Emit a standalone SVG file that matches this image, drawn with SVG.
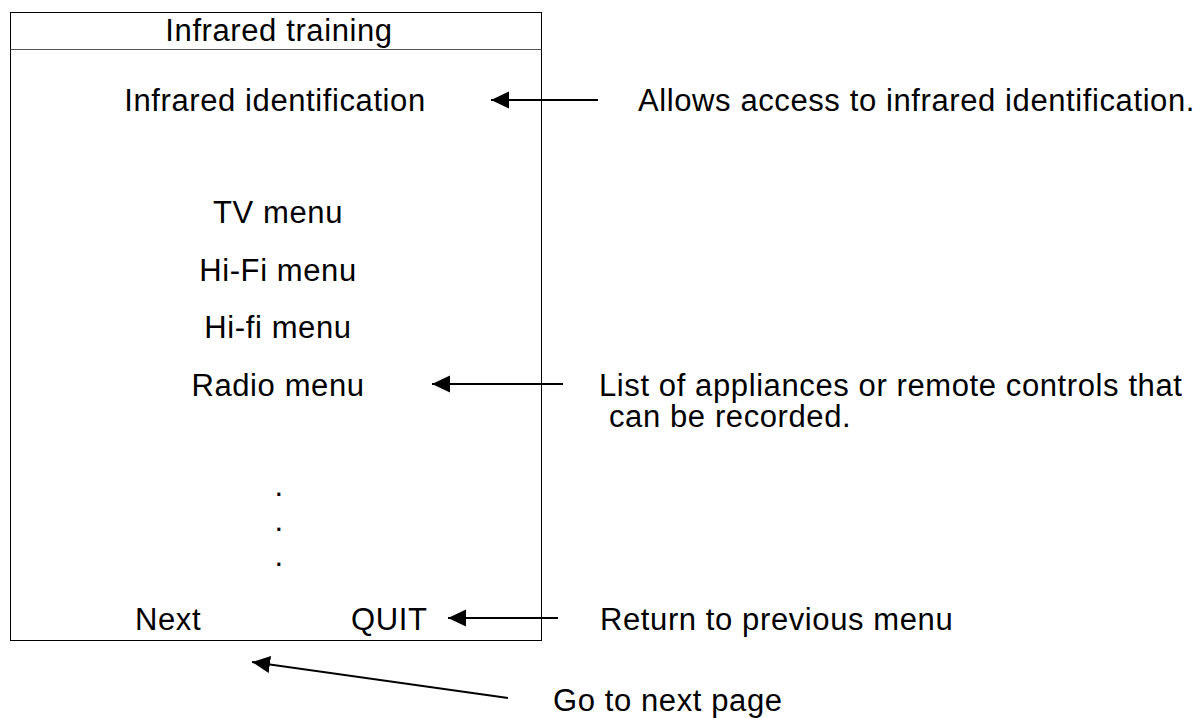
<svg xmlns="http://www.w3.org/2000/svg" width="1202" height="718" viewBox="0 0 1202 718">
<style>
text{font-family:"Liberation Sans",Arial,sans-serif;font-size:31px;letter-spacing:0.6px;fill:#000}
.m{text-anchor:middle}
.box{fill:#fff;stroke:#000;stroke-width:1}
.div{stroke:#555;stroke-width:1}
.c{stroke:#000;stroke-width:2;fill:none;marker-end:url(#ah)}
</style>
<defs>
<marker id="ah" viewBox="0 -9 18 18" refX="18" refY="0" markerWidth="18" markerHeight="18" markerUnits="userSpaceOnUse" orient="auto">
<path d="M0,-8.5 L18,0 L0,8.5 z" fill="#000"/>
</marker>
</defs>
<rect width="1202" height="718" fill="#fff"/>
<g id="menu">
<rect class="box" x="10.5" y="12.5" width="531" height="628"/>
<line class="div" x1="10.5" y1="49.5" x2="541.5" y2="49.5"/>
<text class="m" x="279" y="41">Infrared training</text>
<text class="m" x="275" y="111">Infrared identification</text>
<text class="m" x="278" y="223">TV menu</text>
<text class="m" x="278" y="281">Hi-Fi menu</text>
<text class="m" x="278" y="338">Hi-fi menu</text>
<text class="m" x="278" y="396">Radio menu</text>
<text class="m" x="279" y="496">.</text>
<text class="m" x="279" y="531">.</text>
<text class="m" x="279" y="566">.</text>
<text x="135" y="630">Next</text>
<text x="351" y="630">QUIT</text>
</g>
<g id="note-identification"><text x="638" y="111">Allows access to infrared identification.</text></g>
<g id="note-list">
<text x="599" y="396">List of appliances or remote controls that</text>
<text x="609" y="427">can be recorded.</text>
</g>
<g id="note-quit"><text x="600" y="630">Return to previous menu</text></g>
<g id="note-next"><text x="553" y="711">Go to next page</text></g>
<g id="connectors">
<line class="c" x1="598" y1="100" x2="491" y2="100"/>
<line class="c" x1="563" y1="384" x2="432" y2="384"/>
<line class="c" x1="558" y1="618" x2="448" y2="618"/>
<line class="c" x1="508" y1="698" x2="252" y2="662"/>
</g>
</svg>
